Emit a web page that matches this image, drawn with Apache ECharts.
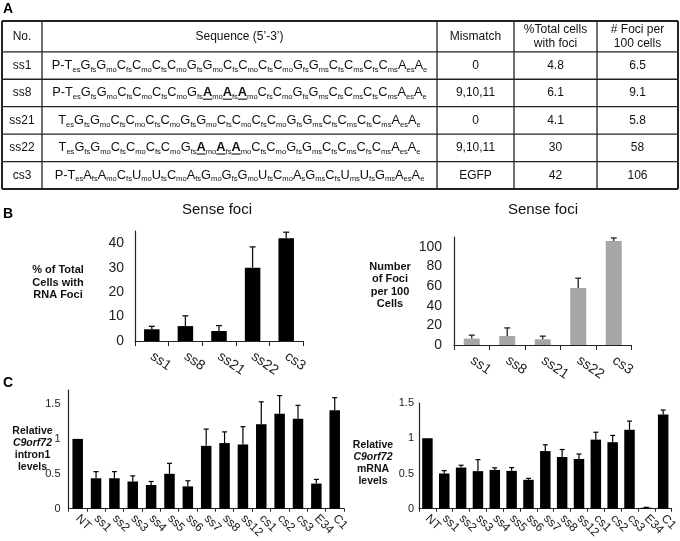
<!DOCTYPE html>
<html><head><meta charset="utf-8">
<script src="https://cdn.jsdelivr.net/npm/echarts@6/dist/echarts.min.js"></script>
<style>html,body{margin:0;padding:0;background:#fff}#c{width:680px;height:541px}</style>
</head><body><div id="c"></div>
<script>
// ---------- Panel A : table ----------
const tableHeaders = ['No.', 'Sequence (5\u2019-3\u2019)', 'Mismatch', '%Total cells\nwith foci', '# Foci per\n100 cells'];
const tableIds = ['ss1', 'ss8', 'ss21', 'ss22', 'cs3'];
const seqSs1  = 'P-T_es G_fs G_mo C_fs C_mo C_fs C_mo G_fs G_mo C_fs C_mo C_fs C_mo G_fs G_ms C_fs C_ms C_fs C_ms A_es A_e';
const seqSs8  = 'P-T_es G_fs G_mo C_fs C_mo C_fs C_mo G_fs *A_mo *A_fs *A_mo C_fs C_mo G_fs G_ms C_fs C_ms C_fs C_ms A_es A_e';
const seqSs21 = 'T_es G_fs G_mo C_fs C_mo C_fs C_mo G_fs G_mo C_fs C_mo C_fs C_mo G_fs G_ms C_fs C_ms C_fs C_ms A_es A_e';
const seqSs22 = 'T_es G_fs G_mo C_fs C_mo C_fs C_mo G_fs *A_mo *A_fs *A_mo C_fs C_mo G_fs G_ms C_fs C_ms C_fs C_ms A_es A_e';
const seqCs3  = 'P-T_es A_fs A_mo C_fs U_mo U_fs C_mo A_fs G_mo G_fs G_mo U_fs C_mo A_s G_ms C_fs U_ms U_fs G_ms A_es A_e';
const tableSequences = [seqSs1, seqSs8, seqSs21, seqSs22, seqCs3];
const tableMismatch = ['0', '9,10,11', '0', '9,10,11', 'EGFP'];
const tablePctCells = ['4.8', '6.1', '4.1', '30', '42'];
const tableFociPer100 = ['6.5', '9.1', '5.8', '58', '106'];

// ---------- Panel B ----------
const senseCategories = ['ss1', 'ss8', 'ss21', 'ss22', 'cs3'];
const pctCellsValues = [4.8, 6.1, 4.1, 30, 42];
const pctCellsErrors = [1.2, 4.2, 2.2, 8.5, 2.5];
const fociValues = [6.5, 9.1, 5.8, 58, 106];
const fociErrors = [3.5, 8.3, 3.2, 10, 3];

// ---------- Panel C ----------
const kdCategories = ['NT', 'ss1', 'ss2', 'ss3', 'ss4', 'ss5', 'ss6', 'ss7', 'ss8', 'ss12', 'cs1', 'cs2', 'cs3', 'E34', 'C1'];
const intronValues = [1.0, 0.436, 0.436, 0.39, 0.34, 0.50, 0.32, 0.90, 0.94, 0.92, 1.21, 1.36, 1.29, 0.36, 1.41];
const intronErrors = [0, 0.095, 0.095, 0.08, 0.05, 0.15, 0.08, 0.24, 0.16, 0.255, 0.32, 0.26, 0.19, 0.06, 0.18];
const mrnaValues = [1.0, 0.50, 0.584, 0.533, 0.55, 0.537, 0.41, 0.818, 0.734, 0.706, 0.98, 0.944, 1.12, 0.015, 1.337];
const mrnaErrors = [0, 0.04, 0.033, 0.163, 0.03, 0.047, 0.02, 0.089, 0.106, 0.07, 0.105, 0.096, 0.123, 0.005, 0.063];

// ---------- layout ----------
const FONT = '"Liberation Sans", Arial, sans-serif';
const colEdges = [0, 40, 435, 512, 595, 676];
const rowEdges = [0, 31, 58.6, 86.2, 113.8, 141.4, 169];
const FONT_BASE = '12.8px ' + FONT;
const FONT_BOLD = 'bold 12.8px ' + FONT;
const FONT_SUB = '7.6px ' + FONT;

const measureCtx = document.createElement('canvas').getContext('2d');
function textW(txt, font) { measureCtx.font = font; return measureCtx.measureText(txt).width; }

function seqElements(seq, xCenter, yMid) {
  const toks = seq.split(' ').map(tok => {
    const bold = tok[0] === '*';
    const t = bold ? tok.slice(1) : tok;
    const parts = t.split('_');
    return {base: parts[0], sub: parts[1] || '', bold};
  });
  let total = 0;
  toks.forEach(t => {
    t.bw = textW(t.base, t.bold ? FONT_BOLD : FONT_BASE);
    t.sw = t.sub ? textW(t.sub, FONT_SUB) : 0;
    total += t.bw + t.sw;
  });
  let x = xCenter - total / 2;
  const els = [];
  toks.forEach(t => {
    els.push({type: 'text', style: {text: t.base, x, y: yMid, align: 'left', verticalAlign: 'middle',
      font: t.bold ? FONT_BOLD : FONT_BASE, fill: '#111'}});
    if (t.bold) {
      els.push({type: 'line', shape: {x1: x, y1: yMid + 6.2, x2: x + t.bw, y2: yMid + 6.2}, style: {stroke: '#111', lineWidth: 1.1}});
    }
    x += t.bw;
    if (t.sub) {
      els.push({type: 'text', style: {text: t.sub, x, y: yMid + 4, align: 'left', verticalAlign: 'middle',
        font: FONT_SUB, fill: '#111'}});
      x += t.sw;
    }
  });
  return els;
}

function tableRender(params, api) {
  const r = api.value(0);
  const yTop = rowEdges[r], yBot = rowEdges[r + 1];
  const p0 = api.coord([colEdges[0], yTop]);
  const p1 = api.coord([colEdges[colEdges.length - 1], yBot]);
  const children = [];
  const stroke = '#222';
  if (r === 0) children.push({type: 'line', shape: {x1: p0[0], y1: p0[1], x2: p1[0], y2: p0[1]}, style: {stroke, lineWidth: 2}});
  const last = r === rowEdges.length - 2;
  children.push({type: 'line', shape: {x1: p0[0], y1: p1[1], x2: p1[0], y2: p1[1]}, style: {stroke, lineWidth: last ? 2 : 1.3}});
  colEdges.forEach((cx, ci) => {
    const x = api.coord([cx, 0])[0];
    const edge = ci === 0 || ci === colEdges.length - 1;
    children.push({type: 'line', shape: {x1: x, y1: p0[1], x2: x, y2: p1[1]}, style: {stroke, lineWidth: edge ? 2 : 1.3}});
  });
  const yMid = (p0[1] + p1[1]) / 2;
  let cells;
  if (r === 0) cells = tableHeaders;
  else {
    const i = r - 1;
    cells = [tableIds[i], null, tableMismatch[i], tablePctCells[i], tableFociPer100[i]];
  }
  cells.forEach((txt, ci) => {
    const xm = (api.coord([colEdges[ci], 0])[0] + api.coord([colEdges[ci + 1], 0])[0]) / 2;
    if (txt === null) {
      seqElements(tableSequences[r - 1], xm, yMid).forEach(e => children.push(e));
      return;
    }
    children.push({type: 'text', style: {text: txt, x: xm, y: yMid, align: 'center', verticalAlign: 'middle',
      fontSize: 12, fontFamily: FONT, fill: '#111', lineHeight: 14}});
  });
  return {type: 'group', children};
}

function errorSeries(xi, values, errors, color, capW, lw) {
  return {
    type: 'custom', xAxisIndex: xi, yAxisIndex: xi, z: 5, clip: false,
    data: values.map((v, i) => [i, v, v + errors[i]]),
    renderItem: (params, api) => {
      if (api.value(2) <= api.value(1)) return null;
      const i = api.value(0);
      const lo = api.coord([i, api.value(1)]);
      const hi = api.coord([i, api.value(2)]);
      return {type: 'group', children: [
        {type: 'line', shape: {x1: lo[0], y1: lo[1], x2: hi[0], y2: hi[1]}, style: {stroke: color, lineWidth: lw}},
        {type: 'line', shape: {x1: hi[0] - capW / 2, y1: hi[1], x2: hi[0] + capW / 2, y2: hi[1]}, style: {stroke: color, lineWidth: lw}}
      ]};
    }
  };
}

function catAxis(gi, cats, fs, tickLen, margin, rot) {
  return {
    type: 'category', gridIndex: gi, data: cats,
    axisLine: {lineStyle: {color: '#222', width: 1.2}},
    axisTick: {show: true, length: tickLen, lineStyle: {color: '#222'}},
    axisLabel: {rotate: rot, fontSize: fs, fontFamily: FONT, color: '#222', margin: margin, interval: 0}
  };
}

function valAxis(gi, max, interval, fs, showMax, labelMargin, name, nameGap, nameFs, namePad) {
  return {
    type: 'value', gridIndex: gi, min: 0, max: max, interval: interval,
    splitLine: {show: false},
    axisLine: {show: true, lineStyle: {color: '#222', width: 1.2}},
    axisTick: {show: false},
    axisLabel: {fontSize: fs, fontFamily: FONT, color: '#222', showMaxLabel: showMax, margin: labelMargin},
    name: name, nameLocation: 'middle', nameRotate: 0, nameGap: nameGap, nameMoveOverlap: false,
    nameTextStyle: {fontSize: nameFs, fontWeight: 'bold', fontFamily: FONT, color: '#111', align: 'center',
      lineHeight: nameFs + 1.5, padding: namePad,
      rich: {i: {fontSize: nameFs, fontWeight: 'bold', fontStyle: 'italic', fontFamily: FONT, color: '#111', lineHeight: nameFs + 1.5}}}
  };
}

const chart = echarts.init(document.getElementById('c'), null, {renderer: 'canvas'});
const letterStyle = {fontSize: 14, fontWeight: 'bold', fontFamily: FONT, color: '#000'};
const titleStyle = {fontSize: 15, fontWeight: 'normal', fontFamily: FONT, color: '#111'};
const option = {
  backgroundColor: '#fff',
  animation: false,
  title: [
    {text: 'A', left: 3, top: 2, textStyle: letterStyle, padding: 0},
    {text: 'B', left: 3, top: 207, textStyle: letterStyle, padding: 0},
    {text: 'C', left: 3, top: 376, textStyle: letterStyle, padding: 0},
    {text: 'Sense foci', left: 217, top: 202, textAlign: 'center', padding: 0, textStyle: titleStyle},
    {text: 'Sense foci', left: 543, top: 202, textAlign: 'center', padding: 0, textStyle: titleStyle}
  ],
  grid: [
    {left: 2, top: 21, width: 676, height: 168, show: false},
    {left: 135, top: 231, width: 168, height: 110},
    {left: 454, top: 237, width: 177.5, height: 108},
    {left: 68.5, top: 390, width: 275.4, height: 119.3},
    {left: 419, top: 403, width: 264.6, height: 107.5}
  ],
  xAxis: [
    {type: 'value', gridIndex: 0, min: 0, max: 676, show: false},
    catAxis(1, senseCategories, 14, 5, 14, -35),
    catAxis(2, senseCategories, 14, 5, 14, -35),
    catAxis(3, kdCategories, 12, 3, 8, -45),
    catAxis(4, kdCategories, 12, 3, 8, -45)
  ],
  yAxis: [
    {type: 'value', gridIndex: 0, min: 0, max: 169, inverse: true, show: false},
    valAxis(1, 45, 10, 14, false, 11, '% of Total\nCells with\nRNA Foci', 77, 11, [0, 0, 7, 0]),
    valAxis(2, 110, 20, 14, false, 12, 'Number\nof Foci\nper 100\nCells', 64, 11, [0, 0, 11, 0]),
    valAxis(3, 1.7, 0.5, 11, false, 8, 'Relative\n{i|C9orf72}\nintron1\nlevels', 36, 10.5, [0, 0, 0, 0]),
    valAxis(4, 1.5, 0.5, 11, true, 5, 'Relative\n{i|C9orf72}\nmRNA\nlevels', 46, 10.5, [14, 0, 0, 0])
  ],
  series: [
    {type: 'custom', xAxisIndex: 0, yAxisIndex: 0, clip: false, silent: true,
     data: rowEdges.slice(0, -1).map((_, r) => [r]), renderItem: tableRender},
    {type: 'bar', xAxisIndex: 1, yAxisIndex: 1, data: pctCellsValues, barWidth: 15.5, itemStyle: {color: '#000'}},
    errorSeries(1, pctCellsValues, pctCellsErrors, '#111', 6, 1.3),
    {type: 'bar', xAxisIndex: 2, yAxisIndex: 2, data: fociValues, barWidth: 16, itemStyle: {color: '#a6a6a6'}},
    errorSeries(2, fociValues, fociErrors, '#222', 6, 1.3),
    {type: 'bar', xAxisIndex: 3, yAxisIndex: 3, data: intronValues, barWidth: 10.5, itemStyle: {color: '#000'}},
    errorSeries(3, intronValues, intronErrors, '#000', 5, 1.2),
    {type: 'bar', xAxisIndex: 4, yAxisIndex: 4, data: mrnaValues, barWidth: 10.5, itemStyle: {color: '#000'}},
    errorSeries(4, mrnaValues, mrnaErrors, '#000', 5, 1.2)
  ]
};
chart.setOption(option);
</script>
</body></html>
